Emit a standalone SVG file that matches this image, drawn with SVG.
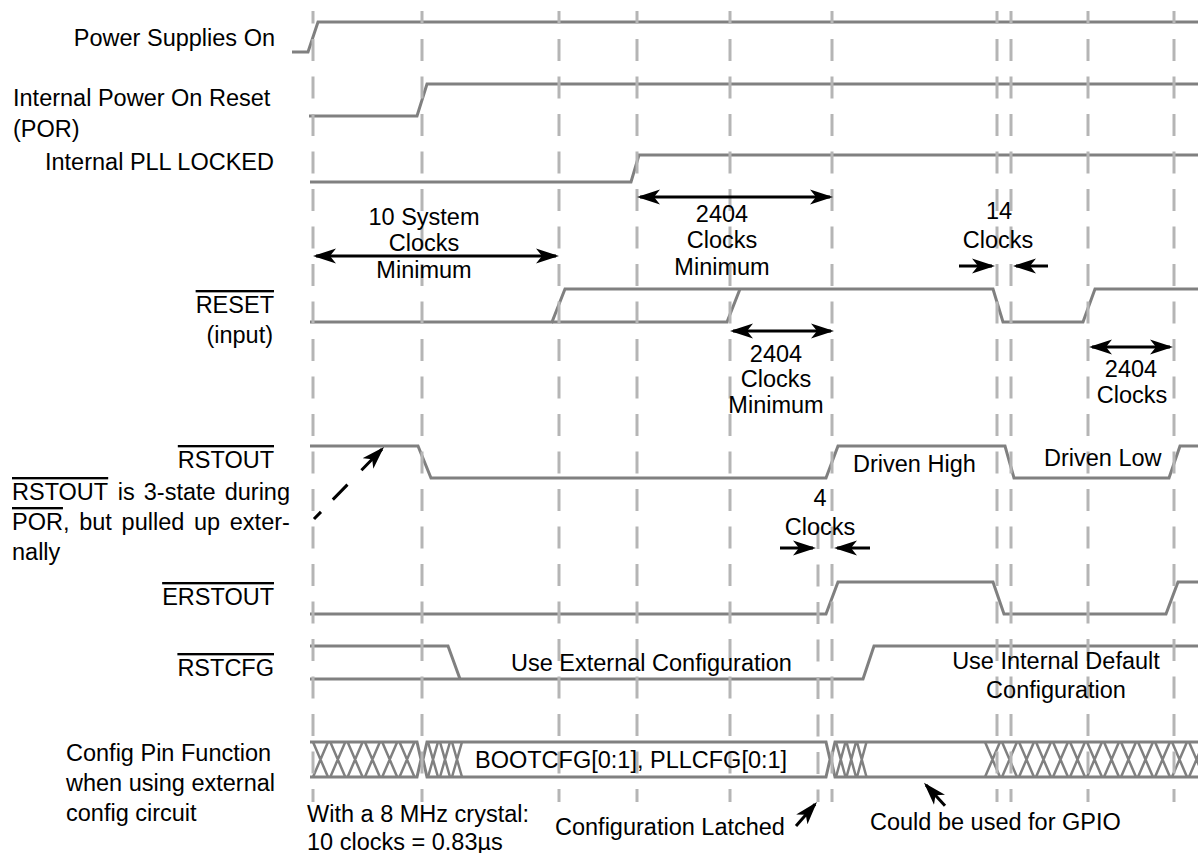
<svg xmlns="http://www.w3.org/2000/svg" width="1198" height="853" viewBox="0 0 1198 853">
<style>
.sig{fill:none;stroke:#808080;stroke-width:3;stroke-linejoin:miter}
.hatch{fill:none;stroke:#808080;stroke-width:2.5}
.grid{stroke:#b5b5b5;stroke-width:3;stroke-dasharray:22 15.5;stroke-dashoffset:9.5}
.arr{fill:none;stroke:#000;stroke-width:3}
text{font-family:"Liberation Sans",Arial,Helvetica,sans-serif;font-size:23.5px;fill:#000}
.e{text-anchor:end}
.m{text-anchor:middle}
.ov{text-decoration:overline}
</style>
<defs>
<marker id="ah" viewBox="0 0 23 16" refX="20" refY="8" markerWidth="23" markerHeight="16" markerUnits="userSpaceOnUse" orient="auto-start-reverse">
<path d="M23,8 L0,0.5 L6,8 L0,15.5 Z" fill="#000"/>
</marker>
</defs>
<rect width="1198" height="853" fill="#fff"/>

<g id="signals">
<g id="power"><path class="sig" d="M292,52 H308 L318,22 H1198"/></g>
<g id="por"><path class="sig" d="M309,116 H417 L427,84 H1198"/></g>
<g id="pll"><path class="sig" d="M310,182 H631 L639,155 H1198"/></g>
<g id="reset">
<path class="sig" d="M310,322 H552 L565,289 H993 L1003,322 H1083 L1095,289 H1198"/>
<path class="sig" d="M552,322 H727 L740,289"/>
</g>
<g id="rstout"><path class="sig" d="M310,446 H418 L431,478 H826 L838,446 H1005 L1014,478 H1169 L1180,446 H1198"/></g>
<g id="erstout"><path class="sig" d="M310,614 H826 L838,582 H993 L1004,614 H1166 L1178,582 H1198"/></g>
<g id="rstcfg">
<path class="sig" d="M310,646 H448 L460,679"/>
<path class="sig" d="M310,679 H863 L874,646 H1198"/>
</g>
<g id="configbus">
<path class="sig" d="M310,742 H417 L421,759.5 L417,777 H310"/>
<path class="sig" d="M427,742 H826 L830,759.5 L826,777 H427 L423,759.5 Z"/>
<path class="sig" d="M1200,742 H835 L831,759.5 L835,777 H1200"/>
<path class="hatch" d="M313,742 L328,777 M328,742 L313,777 M330.3,742 L345.3,777 M345.3,742 L330.3,777 M347.6,742 L362.6,777 M362.6,742 L347.6,777 M364.9,742 L379.9,777 M379.9,742 L364.9,777 M382.2,742 L397.2,777 M397.2,742 L382.2,777 M399.5,742 L414.5,777 M414.5,742 L399.5,777"/>
<path class="hatch" d="M428,742 L438,777 M438,742 L428,777 M440,742 L450,777 M450,742 L440,777 M452,742 L462,777 M462,742 L452,777"/>
<path class="hatch" d="M836,742 L845.5,777 M845.5,742 L836,777 M846.5,742 L856,777 M856,742 L846.5,777 M857,742 L866.5,777 M866.5,742 L857,777"/>
<path class="hatch" d="M985,742 L1000,777 M1000,742 L985,777 M1002,742 L1017,777 M1017,742 L1002,777 M1019,742 L1034,777 M1034,742 L1019,777 M1036,742 L1051,777 M1051,742 L1036,777 M1053,742 L1068,777 M1068,742 L1053,777 M1070,742 L1085,777 M1085,742 L1070,777 M1087,742 L1102,777 M1102,742 L1087,777 M1104,742 L1119,777 M1119,742 L1104,777 M1121,742 L1136,777 M1136,742 L1121,777 M1138,742 L1153,777 M1153,742 L1138,777 M1155,742 L1170,777 M1170,742 L1155,777 M1172,742 L1187,777 M1187,742 L1172,777 M1189,742 L1204,777 M1204,742 L1189,777"/>
</g>
</g>

<g id="gridlines">
<line class="grid" x1="313" y1="11" x2="313" y2="802"/>
<line class="grid" x1="422" y1="11" x2="422" y2="802"/>
<line class="grid" x1="559" y1="11" x2="559" y2="802"/>
<line class="grid" x1="637" y1="11" x2="637" y2="802"/>
<line class="grid" x1="730" y1="11" x2="730" y2="802"/>
<line class="grid" x1="832" y1="11" x2="832" y2="802"/>
<line class="grid" x1="997" y1="11" x2="997" y2="802"/>
<line class="grid" x1="1011" y1="11" x2="1011" y2="802"/>
<line class="grid" x1="1088" y1="11" x2="1088" y2="802"/>
<line class="grid" x1="1174" y1="11" x2="1174" y2="802"/>
<line class="grid" x1="818" y1="527" x2="818" y2="802" style="stroke-dashoffset:0"/>
</g>

<g id="connectors">
<path class="arr" d="M316,256 H556" marker-start="url(#ah)" marker-end="url(#ah)"/>
<path class="arr" d="M640,197 H830" marker-start="url(#ah)" marker-end="url(#ah)"/>
<path class="arr" d="M959,266 H992" marker-end="url(#ah)"/>
<path class="arr" d="M1048,266 H1016" marker-end="url(#ah)"/>
<path class="arr" d="M733,331 H831" marker-start="url(#ah)" marker-end="url(#ah)"/>
<path class="arr" d="M1092,347 H1170" marker-start="url(#ah)" marker-end="url(#ah)"/>
<path class="arr" d="M780,548 H813" marker-end="url(#ah)"/>
<path class="arr" d="M870,548 H837" marker-end="url(#ah)"/>
<path class="arr" d="M314,519 L381.9,449.2" style="stroke-dasharray:10 17 21 20 60" marker-end="url(#ah)"/>
<path class="arr" d="M796,826 L815,804.3" marker-end="url(#ah)"/>
<path class="arr" d="M945,805.7 L926,785" marker-end="url(#ah)"/>
</g>

<g id="labels">
<text class="e" x="275" y="46">Power Supplies On</text>
<text x="13" y="106">Internal Power On Reset</text>
<text x="13" y="137">(POR)</text>
<text class="e" x="274" y="170">Internal PLL LOCKED</text>
<text class="e ov" x="274" y="313">RESET</text>
<text class="e" x="273" y="343">(input)</text>
<text class="e ov" x="274" y="468">RSTOUT</text>
<text y="500"><tspan x="12" class="ov">RSTOUT</tspan><tspan x="117.7">is</tspan><tspan x="143.8">3-state</tspan><tspan x="224.7">during</tspan></text>
<text y="530"><tspan x="12" class="ov">POR</tspan><tspan>,</tspan><tspan x="79.2">but</tspan><tspan x="121.6">pulled</tspan><tspan x="194">up</tspan><tspan x="229.8">exter-</tspan></text>
<text x="12" y="560">nally</text>
<text class="e ov" x="274" y="605">ERSTOUT</text>
<text class="e ov" x="274" y="676">RSTCFG</text>
<text x="66" y="761">Config Pin Function</text>
<text x="66" y="791">when using external</text>
<text x="66" y="821">config circuit</text>
<text x="307" y="822">With a 8 MHz crystal:</text>
<text x="307" y="850">10 clocks = 0.83µs</text>
<text x="555" y="835">Configuration Latched</text>
<text x="870" y="830">Could be used for GPIO</text>
<text x="475" y="768">BOOTCFG[0:1], PLLCFG[0:1]</text>
<text x="511" y="671">Use External Configuration</text>
<text class="m" x="1056" y="669">Use Internal Default</text>
<text class="m" x="1056" y="698">Configuration</text>
<text x="853" y="472">Driven High</text>
<text x="1044" y="466">Driven Low</text>
<text class="m" x="424" y="225">10 System</text>
<text class="m" x="424" y="251">Clocks</text>
<text class="m" x="424" y="278">Minimum</text>
<text class="m" x="722" y="222">2404</text>
<text class="m" x="722" y="248">Clocks</text>
<text class="m" x="722" y="275">Minimum</text>
<text class="m" x="999" y="219">14</text>
<text class="m" x="998" y="248">Clocks</text>
<text class="m" x="776" y="362">2404</text>
<text class="m" x="776" y="387">Clocks</text>
<text class="m" x="776" y="413">Minimum</text>
<text class="m" x="1131" y="377">2404</text>
<text class="m" x="1132" y="403">Clocks</text>
<text class="m" x="820" y="506">4</text>
<text class="m" x="820" y="535">Clocks</text>
</g>
</svg>
